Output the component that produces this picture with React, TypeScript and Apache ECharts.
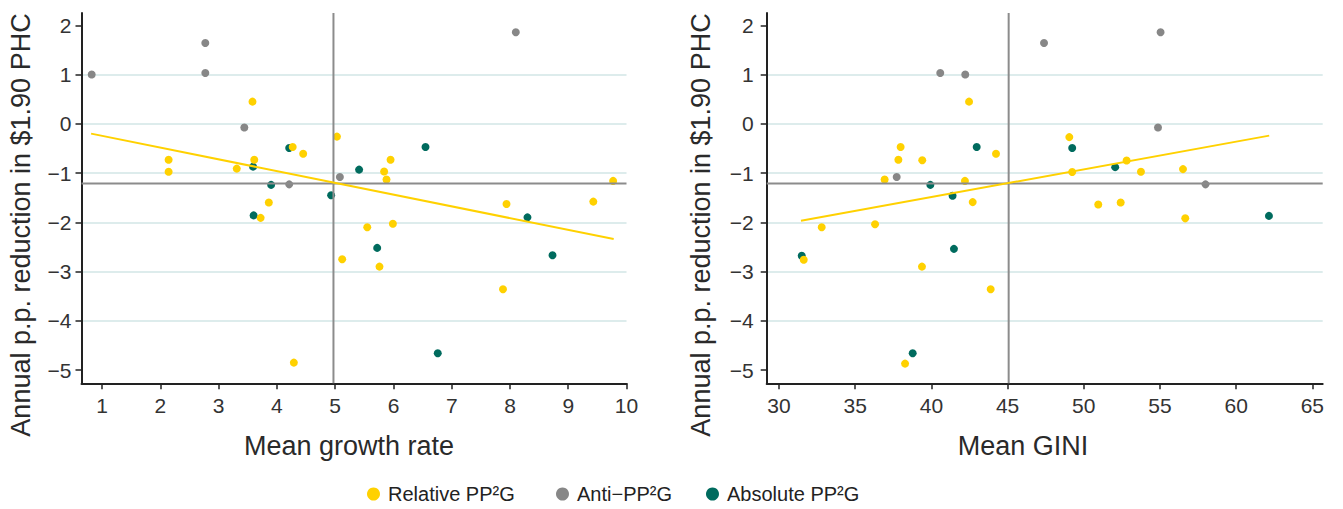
import React, { useEffect, useRef } from "react";
import * as echarts from "echarts";

const FONT = '"Liberation Sans", Arial, sans-serif';

// ---- tick labels / ranges ----
const Y_TICKS = [-5, -4, -3, -2, -1, 0, 1, 2];
const GROWTH_TICKS = [1, 2, 3, 4, 5, 6, 7, 8, 9, 10];
const GINI_TICKS = [30, 35, 40, 45, 50, 55, 60, 65];
const Y_RANGE = [-5.27, 2.25];
const GROWTH_RANGE = [0.645, 10];
const GINI_RANGE = [29.19, 65.68];

// ---- means (reference lines) ----
const MEAN_PHC = -1.21;
const MEAN_GROWTH = 4.97;
const MEAN_GINI = 45.07;

// ---- fitted trend lines (end points) ----
const TREND_GROWTH = [[0.81, -0.2], [9.78, -2.34]];
const TREND_GINI = [[31.44, -1.97], [62.17, -0.24]];

// ---- series names ----
const NAMES = ["Relative PP²G", "Anti\u2212PP²G", "Absolute PP²G"];
const COLORS = ["#FFD100", "#878787", "#006B5E"];

// ---- left panel: mean growth rate vs annual reduction ----
const growthRelative = [
  [3.58, 0.45], [2.14, -0.73], [2.14, -0.975], [3.31, -0.91], [3.61, -0.73],
  [4.27, -0.47], [4.45, -0.61], [3.86, -1.6], [3.72, -1.91], [5.03, -0.26],
  [5.95, -0.73], [5.84, -0.97], [5.88, -1.13], [9.77, -1.16], [7.94, -1.63],
  [9.43, -1.58], [5.55, -2.1], [5.99, -2.03], [5.12, -2.75], [5.76, -2.9],
  [7.88, -3.36], [4.29, -4.85],
];
const growthAnti = [
  [0.82, 1.0], [2.77, 1.64], [2.77, 1.03], [3.44, -0.075], [4.21, -1.23],
  [5.08, -1.08], [8.1, 1.86],
];
const growthAbsolute = [
  [3.59, -0.87], [4.21, -0.49], [3.9, -1.24], [3.6, -1.86], [4.93, -1.45],
  [6.55, -0.47], [5.41, -0.93], [8.3, -1.9], [5.72, -2.52], [8.73, -2.67],
  [6.76, -4.66],
];

// ---- right panel: mean GINI vs annual reduction ----
const giniRelative = [
  [42.47, 0.45], [44.24, -0.61], [37.98, -0.47], [37.83, -0.73], [39.4, -0.74],
  [36.93, -1.13], [42.2, -1.16], [42.71, -1.59], [32.8, -2.1], [36.3, -2.04],
  [31.62, -2.76], [39.38, -2.9], [43.89, -3.36], [38.27, -4.87], [49.05, -0.27],
  [49.24, -0.98], [52.81, -0.745], [53.75, -0.975], [56.51, -0.92], [50.95, -1.64],
  [52.42, -1.6], [56.66, -1.92],
];
const giniAnti = [
  [40.58, 1.03], [42.22, 1.0], [37.72, -1.08], [47.39, 1.64], [55.04, 1.86],
  [54.87, -0.075], [57.99, -1.23],
];
const giniAbsolute = [
  [42.97, -0.47], [39.93, -1.24], [41.39, -1.46], [41.48, -2.54], [31.49, -2.68],
  [38.77, -4.66], [49.24, -0.49], [52.06, -0.88], [62.15, -1.87],
];

const fmt = (v: number) => String(v).replace("-", "\u2212");

function xAxisOpt(gridIndex: number, range: number[], ticks: number[]) {
  return {
    type: "value",
    gridIndex,
    min: range[0],
    max: range[1],
    axisLine: { show: true, onZero: false, lineStyle: { color: "#222", width: 2 } },
    axisTick: { show: true, length: 6, customValues: ticks, lineStyle: { color: "#222", width: 1.5 } },
    axisLabel: {
      customValues: ticks,
      fontSize: 21,
      fontFamily: FONT,
      color: "#333",
      margin: 12,
      formatter: fmt,
    },
    splitLine: { show: false },
  };
}

function yAxisOpt(gridIndex: number, margin: number) {
  return {
    type: "value",
    gridIndex,
    min: Y_RANGE[0],
    max: Y_RANGE[1],
    axisLine: { show: true, onZero: false, lineStyle: { color: "#222", width: 2 } },
    axisTick: { show: true, length: 6, customValues: Y_TICKS, lineStyle: { color: "#222", width: 1.5 } },
    axisLabel: {
      customValues: Y_TICKS,
      fontSize: 21,
      fontFamily: FONT,
      color: "#333",
      margin,
      formatter: fmt,
    },
    splitLine: {
      show: true,
      showMinLine: false,
      showMaxLine: false,
      lineStyle: { color: "#DDECEC", width: 2 },
    },
  };
}

function panelSeries(
  idx: number,
  xRange: number[],
  meanX: number,
  rel: number[][],
  anti: number[][],
  abs: number[][],
  trend: number[][]
) {
  const refLine = (data: number[][]) => ({
    type: "line",
    xAxisIndex: idx,
    yAxisIndex: idx,
    data,
    symbol: "none",
    silent: true,
    lineStyle: { color: "#8C8C8C", width: 2 },
  });
  const scatter = (k: number, data: number[][]) => ({
    type: "scatter",
    name: NAMES[k],
    xAxisIndex: idx,
    yAxisIndex: idx,
    data,
    symbolSize: 8,
    itemStyle: { color: COLORS[k], opacity: 1 },
  });
  return [
    refLine([[meanX, Y_RANGE[0]], [meanX, Y_RANGE[1]]]),
    refLine([[xRange[0], MEAN_PHC], [xRange[1], MEAN_PHC]]),
    scatter(2, abs),
    scatter(1, anti),
    scatter(0, rel),
    {
      type: "line",
      xAxisIndex: idx,
      yAxisIndex: idx,
      data: trend,
      symbol: "none",
      silent: true,
      lineStyle: { color: "#FFD100", width: 2 },
    },
  ];
}

const legendLefts = [362, 551, 701];

export default function App() {
  const ref = useRef<HTMLDivElement>(null);
  useEffect(() => {
    if (!ref.current) return;
    const chart = echarts.init(ref.current, undefined, { renderer: "svg" });
    const titleStyle = { fontSize: 27, fontFamily: FONT, fill: "#2a2a2a" };
    chart.setOption({
      animation: false,
      backgroundColor: "#fff",
      textStyle: { fontFamily: FONT },
      grid: [
        { left: 81.5, top: 13, width: 545, height: 370.3 },
        { left: 766.7, top: 13, width: 556, height: 370.3 },
      ],
      xAxis: [
        xAxisOpt(0, GROWTH_RANGE, GROWTH_TICKS),
        xAxisOpt(1, GINI_RANGE, GINI_TICKS),
      ],
      yAxis: [yAxisOpt(0, 10), yAxisOpt(1, 13)],
      legend: NAMES.map((n, k) => ({
        data: [n],
        left: legendLefts[k],
        top: 479,
        icon: "circle",
        itemWidth: 13,
        itemHeight: 13,
        selectedMode: false,
        textStyle: { fontSize: 20, fontFamily: FONT, color: "#222", padding: [0, 0, 0, 3] },
      })),
      series: [
        ...panelSeries(0, GROWTH_RANGE, MEAN_GROWTH, growthRelative, growthAnti, growthAbsolute, TREND_GROWTH),
        ...panelSeries(1, GINI_RANGE, MEAN_GINI, giniRelative, giniAnti, giniAbsolute, TREND_GINI),
      ],
      graphic: [
        {
          type: "text",
          x: 21,
          y: 225,
          rotation: Math.PI / 2,
          style: { ...titleStyle, text: "Annual p.p. reduction in $1.90 PHC", align: "center", verticalAlign: "middle" },
        },
        {
          type: "text",
          x: 701,
          y: 225,
          rotation: Math.PI / 2,
          style: { ...titleStyle, text: "Annual p.p. reduction in $1.90 PHC", align: "center", verticalAlign: "middle" },
        },
        {
          type: "text",
          x: 349,
          y: 446,
          style: { ...titleStyle, text: "Mean growth rate", align: "center", verticalAlign: "middle" },
        },
        {
          type: "text",
          x: 1023,
          y: 446,
          style: { ...titleStyle, text: "Mean GINI", align: "center", verticalAlign: "middle" },
        },
      ],
    });
    return () => chart.dispose();
  }, []);
  return (
    <div
      ref={ref}
      style={{ position: "absolute", left: 0, top: 0, width: 1343, height: 509 }}
    />
  );
}
